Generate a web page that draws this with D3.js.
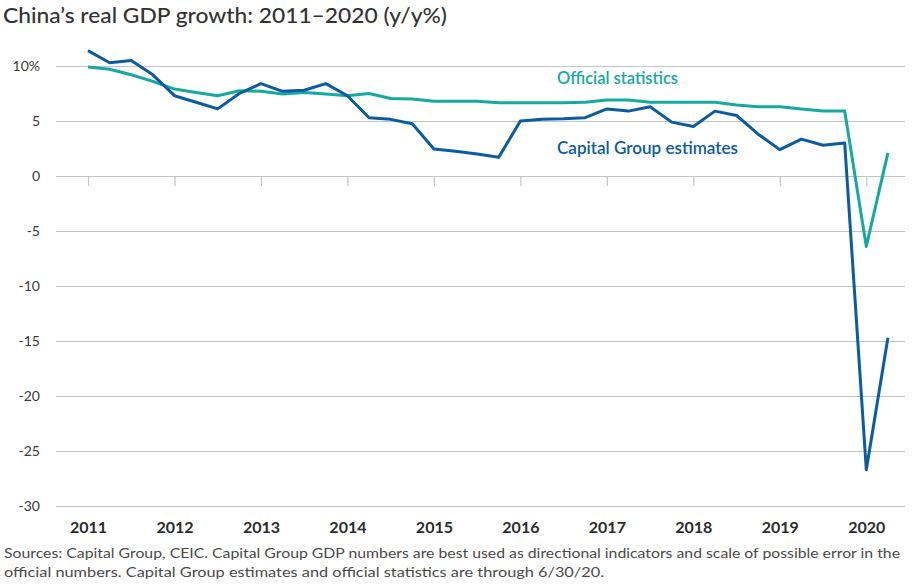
<!DOCTYPE html>
<html><head><meta charset="utf-8">
<script src="https://cdn.jsdelivr.net/npm/d3@7"></script>
<style>
body{margin:0;background:#fff;}
svg{display:block;}
</style></head>
<body><div id="chart"></div>
<script>
const years = ["2011","2012","2013","2014","2015","2016","2017","2018","2019","2020"];
const quarters = ["2011Q1","2011Q2","2011Q3","2011Q4","2012Q1","2012Q2","2012Q3","2012Q4","2013Q1","2013Q2","2013Q3","2013Q4","2014Q1","2014Q2","2014Q3","2014Q4","2015Q1","2015Q2","2015Q3","2015Q4","2016Q1","2016Q2","2016Q3","2016Q4","2017Q1","2017Q2","2017Q3","2017Q4","2018Q1","2018Q2","2018Q3","2018Q4","2019Q1","2019Q2","2019Q3","2019Q4","2020Q1","2020Q2"];
const capitalGroup = [11.4,10.3,10.5,9.2, 7.3,6.7,6.1,7.5, 8.4,7.7,7.8,8.4, 7.3,5.3,5.15,4.75, 2.45,2.25,2.0,1.7, 5.0,5.15,5.2,5.3, 6.1,5.9,6.3,4.9, 4.5,5.9,5.5,3.8, 2.4,3.35,2.8,3.0, -26.7,-14.7];
const official = [9.9,9.7,9.2,8.6, 7.9,7.6,7.3,7.75, 7.7,7.45,7.6,7.45, 7.3,7.5,7.05,7.0, 6.8,6.8,6.8,6.65, 6.65,6.65,6.65,6.7, 6.9,6.9,6.7,6.7, 6.7,6.7,6.45,6.3, 6.3,6.1,5.9,5.9, -6.4,2.1];
const yTicks = [10,5,0,-5,-10,-15,-20,-25,-30];
const yTickLabels = ["10%","5","0","-5","-10","-15","-20","-25","-30"];

const W = 916, H = 588;
const svg = d3.select("#chart").append("svg").attr("width", W).attr("height", H);

const blue = "#0b5c9e", teal = "#14aaa0";
const font = "Lato, 'Open Sans', sans-serif";

const y = d3.scaleLinear().domain([-30, 10]).range([506, 66]);
const x = d3.scaleLinear().domain([0, 36]).range([88, 866.3]);
const gridX0 = 56, gridX1 = 905;

// title
svg.append("text").attr("x", 3).attr("y", 23)
  .attr("font-family", font).attr("font-size", 21).attr("font-weight", 500)
  .attr("textLength", 444).attr("lengthAdjust", "spacingAndGlyphs")
  .attr("fill", "#333").text("China\u2019s real GDP growth: 2011\u20132020 (y/y%)");

// y axis gridlines via axis
const yAxis = d3.axisLeft(y).tickValues(yTicks)
  .tickSize(-(gridX1 - gridX0))
  .tickFormat((d, i) => yTickLabels[i]);
const gy = svg.append("g").attr("transform", `translate(${gridX0},0)`).call(yAxis);
gy.select(".domain").remove();
gy.selectAll(".tick line").attr("stroke", "#c4c4c4").attr("stroke-width", 1.2);
gy.selectAll(".tick text").attr("x", -16).attr("font-family", font)
  .attr("font-size", 14).attr("fill", "#3a3a3a");

// x axis tick marks at zero line
const yearIdx = years.map((d, i) => i * 4);
const xAxis = d3.axisBottom(x).tickValues(yearIdx).tickSize(10)
  .tickFormat((d, i) => years[i]);
const gx = svg.append("g").attr("transform", `translate(0,${y(0)})`).call(xAxis);
gx.select(".domain").remove();
gx.selectAll(".tick line").attr("stroke", "#c4c4c4").attr("stroke-width", 1.2);
gx.selectAll(".tick text").attr("y", 0).attr("dy", 0)
  .attr("transform", `translate(0,${533 - y(0)})`)
  .attr("font-family", font).attr("font-size", 16).attr("font-weight", 700)
  .attr("fill", "#2b2b2b");

// lines
const line = d3.line().x((d, i) => x(i)).y(d => y(d));
svg.append("path").datum(official).attr("d", line)
  .attr("fill", "none").attr("stroke", teal).attr("stroke-width", 3).attr("stroke-linejoin", "round");
svg.append("path").datum(capitalGroup).attr("d", line)
  .attr("fill", "none").attr("stroke", blue).attr("stroke-width", 3).attr("stroke-linejoin", "round");

// series labels
svg.append("text").attr("x", 557).attr("y", 84)
  .attr("font-family", font).attr("font-size", 16.5).attr("font-weight", 600)
  .attr("textLength", 121).attr("lengthAdjust", "spacingAndGlyphs")
  .attr("fill", teal).text("Official statistics");
svg.append("text").attr("x", 557).attr("y", 154)
  .attr("font-family", font).attr("font-size", 16.5).attr("font-weight", 600)
  .attr("textLength", 181).attr("lengthAdjust", "spacingAndGlyphs")
  .attr("fill", blue).text("Capital Group estimates");

// footnote
const foot = svg.append("text").attr("font-family", font).attr("font-size", 14)
  .attr("fill", "#4a4a4a");
foot.append("tspan").attr("x", 4).attr("y", 558)
  .attr("textLength", 896).attr("lengthAdjust", "spacingAndGlyphs")
  .text("Sources: Capital Group, CEIC. Capital Group GDP numbers are best used as directional indicators and scale of possible error in the");
foot.append("tspan").attr("x", 4).attr("y", 577)
  .attr("textLength", 600).attr("lengthAdjust", "spacingAndGlyphs")
  .text("official numbers. Capital Group estimates and official statistics are through 6/30/20.");
</script></body></html>
